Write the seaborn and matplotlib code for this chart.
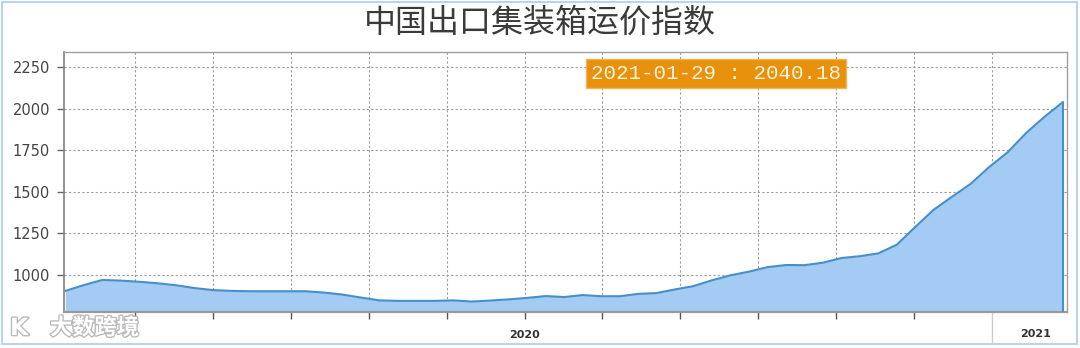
import matplotlib
matplotlib.use("Agg")
import matplotlib.pyplot as plt
import matplotlib.dates as mdates
import matplotlib.patheffects as pe
from matplotlib.ticker import FixedLocator
import numpy as np
import pandas as pd
import seaborn as sns

# ---- data (biweekly index values) ----
dates = pd.date_range("2019-01-04", "2021-01-29", freq="14D")
values = [902, 937, 968, 964, 957, 948, 936, 919, 907, 902,
          900, 900, 900, 900, 892, 880, 862, 845, 842, 842,
          842, 845, 838, 844, 851, 860, 871, 865, 877, 870,
          870, 884, 889, 911, 931, 966, 996, 1018, 1045, 1058,
          1057, 1072, 1100, 1111, 1128, 1180, 1287, 1391, 1470, 1547,
          1648, 1737, 1853, 1951, 2040.18]
title = "中国出口集装箱运价指数"
y_ticks = [1000, 1250, 1500, 1750, 2000, 2250]
x_tick_dates = pd.date_range("2019-02-26", periods=12, freq="59D")
x_tick_labels = ["", "", "", "", "", "2020", "", "", "", "", "", ""]
year2021_label_date = pd.Timestamp("2021-01-08")
last_label = "2021-01-29 : 2040.18"

df = pd.DataFrame({"date": dates, "value": values})

sns.set_theme(style="white")
plt.rcParams["font.family"] = ["DejaVu Sans", "Noto Sans CJK SC"]

fig = plt.figure(figsize=(10.8, 3.48), dpi=100)
fig.patch.set_facecolor("white")
ax = fig.add_axes([64 / 1080, 1 - 312 / 348, 1003 / 1080, 260 / 348])

line_color = "#468FC8"
fill_color = "#A4CBF3"
ax.fill_between(df["date"], df["value"], 0, color=fill_color, linewidth=0, zorder=2)
sns.lineplot(data=df, x="date", y="value", ax=ax, color=line_color, linewidth=1.5, zorder=3)
# right edge of area
ax.vlines(df["date"].iloc[-1], 0, df["value"].iloc[-1], color=line_color, linewidth=1.5, zorder=3)

ax.set_xlim(pd.Timestamp("2019-01-03"), pd.Timestamp("2021-02-01"))
ax.set_ylim(775, 2341)
ax.set_xlabel("")
ax.set_ylabel("")

ax.set_yticks(y_ticks)
ax.set_yticklabels([str(v) for v in y_ticks], fontsize=10.5, color="#444444")
ax.xaxis.set_major_locator(FixedLocator(mdates.date2num(x_tick_dates[:-1])))
ax.set_xticklabels(x_tick_labels[:-1], fontsize=8, fontweight="bold", color="#333333")
ax.xaxis.set_minor_locator(FixedLocator([mdates.date2num(x_tick_dates[-1])]))

ax.tick_params(axis="y", which="major", length=5, width=1, color="#666666", pad=5, left=True)
ax.tick_params(axis="x", which="major", length=5, width=1, color="#555555", pad=8, bottom=True)
ax.tick_params(axis="x", which="minor", length=22, width=1, color="#CCCCCC", bottom=True)

ax.grid(True, which="both", axis="x", linestyle=(0, (2, 2)), color="#9A9A9A", linewidth=0.8, zorder=1)
ax.grid(True, which="major", axis="y", linestyle=(0, (2, 2)), color="#9A9A9A", linewidth=0.8, zorder=1)
ax.set_axisbelow(True)

for side in ["top", "right"]:
    ax.spines[side].set_color("#A0A0A0")
    ax.spines[side].set_linewidth(1)
ax.spines["left"].set_color("#808080")
ax.spines["bottom"].set_color("#9A9A9A")
ax.spines["left"].set_linewidth(1.2)
ax.spines["bottom"].set_linewidth(1.6)

# 2021 year label
ax.text(year2021_label_date, -0.065, "2021", transform=ax.get_xaxis_transform(),
        ha="center", va="top", fontsize=8, fontweight="bold", color="#333333")

# value label box
ax.text(0.65, 0.917, last_label, transform=ax.transAxes, ha="center", va="center",
        fontsize=15, family="Liberation Mono", color="#FFF3DC", zorder=5,
        bbox=dict(boxstyle="square,pad=0.25", facecolor="#E8910C", edgecolor="#F2B35A", linewidth=1))

# title
fig.text(0.5, 1 - 23 / 348, title, ha="center", va="center", fontsize=23,
         family=["Noto Sans CJK SC"], color="#3A3A3A")

# watermark
fig.text(50 / 1080, 1 - 328 / 348, "大数跨境", ha="left", va="center", fontsize=16,
         family=["Noto Sans CJK SC"], color="white", fontweight="bold",
         path_effects=[pe.withStroke(linewidth=2, foreground="#BBBBBB")])
fig.text(10 / 1080, 1 - 328 / 348, "K", ha="left", va="center", fontsize=17,
         color="white", fontweight="bold",
         path_effects=[pe.withStroke(linewidth=2, foreground="#BBBBBB")])

# outer light-blue frame
fig.add_artist(plt.Rectangle((2 / 1080, 4 / 348), 1075 / 1080, 342 / 348, transform=fig.transFigure,
                             fill=False, edgecolor="#B8D4EE", linewidth=1.5))

fig.savefig("out.png", dpi=100)
